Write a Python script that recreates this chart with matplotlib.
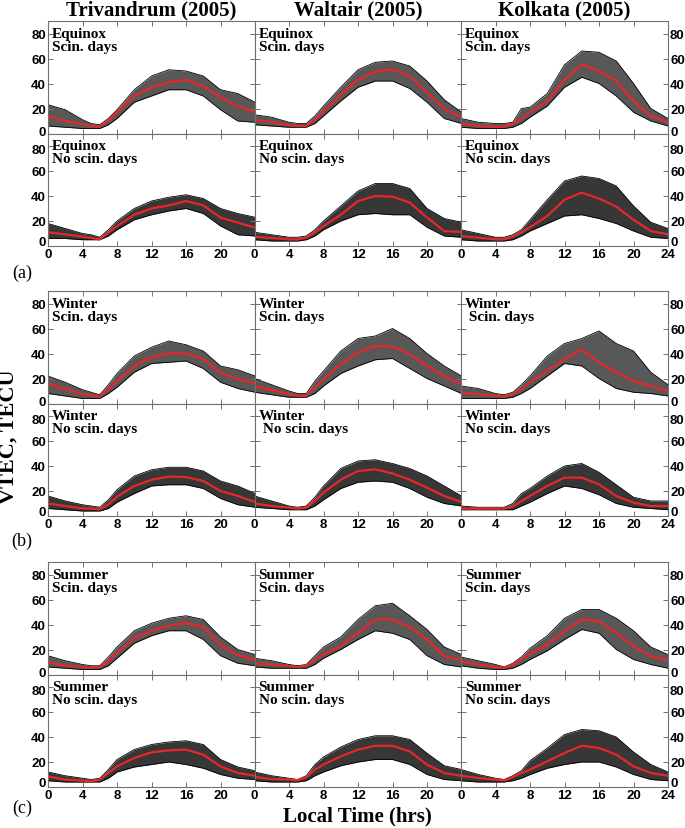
import matplotlib
matplotlib.use("Agg")
import matplotlib.pyplot as plt
import matplotlib.transforms as mtransforms
import numpy as np

# ---- data (TECU) ----
hours = [0, 2, 4, 5, 6, 7, 8, 10, 12, 14, 16, 18, 20, 22, 24]
stations = ["Trivandrum (2005)", "Waltair (2005)", "Kolkata (2005)"]
seasons = ["Equinox", "Winter", "Summer"]
group_tags = ["(a)", "(b)", "(c)"]
xtick_vals = [0, 4, 8, 12, 16, 20, 24]
ytick_vals = [0, 20, 40, 60, 80]

# mean (red), upper and lower edges of the bundle of daily curves
triv_eq_sc_mean = [14, 10, 7.5, 6, 5.5, 10, 17, 30, 37, 41, 43, 38, 29, 22, 17]
triv_eq_sc_hi   = [23, 19, 11, 8, 7, 12, 19, 35, 46, 51, 50, 46, 35, 32, 25]
triv_eq_sc_lo   = [6, 5, 4, 4, 4, 7, 12, 25, 30, 35, 35, 30, 19, 10, 9]
walt_eq_sc_mean = [11, 9, 6.7, 6, 6, 11, 18, 31, 43, 49.5, 51, 46, 33, 19.5, 13]
walt_eq_sc_hi   = [15, 13, 9, 8, 8, 14, 22, 37, 51, 57, 58, 54, 42, 27, 17]
walt_eq_sc_lo   = [7, 6, 5, 5, 5, 8, 14, 26, 37, 42, 42, 36, 25, 12, 8]
kolk_eq_sc_mean = [8, 6, 5.3, 5.3, 8, 12, 17, 26, 43, 55, 50, 42, 26, 14, 9]
kolk_eq_sc_hi   = [12, 9, 8, 8, 9, 20, 21, 32, 55, 66, 65, 58, 40, 20, 12]
kolk_eq_sc_lo   = [5, 4, 4, 4, 5, 8, 13, 22, 37, 45, 40, 30, 17, 10, 6]

triv_eq_ns_mean = [11, 9.3, 7.5, 6.4, 5.3, 10.7, 16, 25, 30, 32.5, 36, 32.5, 22.7, 18.7, 14.7]
triv_eq_ns_hi   = [18, 14, 10, 9, 7, 13, 20, 30, 36, 39, 41, 38, 30, 26, 23]
triv_eq_ns_lo   = [6, 6, 5, 5, 5, 8, 13, 21, 25, 28, 30, 26, 16, 9, 8]
walt_eq_ns_mean = [7.5, 6.4, 5.3, 5.3, 6.7, 10.7, 16, 25, 36, 40, 39.5, 34.7, 22.7, 12, 11.2]
walt_eq_ns_hi   = [11, 9, 7, 7, 8, 13, 20, 32, 44, 50, 50, 46, 30, 22, 19]
walt_eq_ns_lo   = [5, 4, 4, 4, 5, 8, 13, 20, 25, 26, 25, 25, 15, 8, 7]
kolk_eq_ns_mean = [8, 6.7, 5.3, 5.3, 7.5, 10.7, 15, 24, 37, 42.7, 38, 31.5, 21, 12, 9.3]
kolk_eq_ns_hi   = [13, 10, 7, 7, 9, 13, 21, 37, 52, 56, 54, 48, 32, 19, 14]
kolk_eq_ns_lo   = [5, 4, 4, 4, 5, 8, 12, 18, 24, 25, 22, 18, 12, 7, 6]

triv_wi_sc_mean = [16, 11.5, 7.5, 6.7, 5.3, 11.5, 18, 30, 37, 40, 40, 35.5, 24.8, 19.5, 16]
triv_wi_sc_hi   = [22, 17, 11, 9, 7, 15, 24, 38, 45, 50, 47, 42, 30, 27, 22]
triv_wi_sc_lo   = [8, 6, 4, 4, 4, 8, 13, 25, 32, 33, 34, 28, 17, 12, 9]
walt_wi_sc_mean = [14, 10.7, 7.5, 6.1, 6.1, 12.8, 19.5, 31.5, 40.8, 46, 45.6, 39.5, 30, 22, 15.5]
walt_wi_sc_hi   = [20, 15, 10, 8, 8, 18, 26, 42, 52, 54, 60, 52, 40, 30, 22]
walt_wi_sc_lo   = [9, 7, 5, 5, 5, 8, 14, 24, 30, 35, 36, 28, 20, 14, 8]
kolk_wi_sc_mean = [8.8, 7.5, 6.1, 5.6, 7.5, 11.5, 16.8, 26, 35.5, 43, 33, 25, 18, 14, 10]
kolk_wi_sc_hi   = [14, 12, 8, 7, 9, 15, 22, 38, 48, 52, 58, 48, 42, 25, 15]
kolk_wi_sc_lo   = [4, 4, 4, 4, 5, 8, 12, 22, 32, 30, 20, 12, 9, 8, 6]

triv_wi_ns_mean = [10, 8, 6.1, 5.9, 5.3, 9.3, 15.5, 24, 29, 31.5, 31.2, 28, 20, 16, 11.2]
triv_wi_ns_hi   = [16, 12, 9, 8, 7, 13, 21, 32, 37, 39, 39, 36, 28, 24, 18]
triv_wi_ns_lo   = [6, 5, 4, 4, 4, 6, 11, 18, 24, 25, 25, 22, 14, 9, 7]
walt_wi_ns_mean = [10, 8, 6.7, 5.9, 6.7, 12, 18.7, 29, 36, 37.3, 34, 29, 22.7, 16, 11.2]
walt_wi_ns_hi   = [16, 12, 8, 7, 8, 15, 24, 38, 44, 45, 42, 38, 32, 24, 16]
walt_wi_ns_lo   = [7, 6, 5, 5, 5, 8, 13, 22, 27, 28, 27, 22, 15, 10, 8]
kolk_wi_ns_mean = [5.9, 5.9, 5.9, 5.9, 7.5, 12, 16, 24, 30.7, 30.7, 25.3, 16, 10.7, 8, 8]
kolk_wi_ns_hi   = [8, 7, 7, 7, 10, 18, 22, 32, 40, 42, 35, 25, 15, 12, 12]
kolk_wi_ns_lo   = [5, 5, 5, 5, 5, 8, 11, 18, 24, 22, 17, 10, 7, 6, 5]

triv_su_sc_mean = [10, 7.2, 5.9, 5.3, 5.9, 10.7, 17.3, 29.3, 34.7, 39, 41.3, 38, 23.5, 15.5, 11.5]
triv_su_sc_hi   = [15, 11, 8, 7, 7, 14, 22, 35, 41, 45, 47, 44, 30, 20, 16]
triv_su_sc_lo   = [6, 5, 4, 4, 4, 7, 13, 25, 31, 35, 35, 28, 15, 9, 7]
walt_su_sc_mean = [9.3, 8, 6.7, 5.9, 7.2, 12, 16, 22.7, 33.3, 44, 44, 38, 28, 14.7, 11.5]
walt_su_sc_hi   = [13, 11, 8, 7, 8, 15, 22, 30, 44, 55, 57, 47, 36, 22, 16]
walt_su_sc_lo   = [6, 5, 5, 5, 5, 8, 13, 20, 28, 35, 33, 28, 15, 8, 6]
kolk_su_sc_mean = [10.7, 8, 5.9, 5.3, 8, 12, 16.5, 24, 34.7, 44, 42.7, 33.3, 22.7, 14.7, 11.5]
kolk_su_sc_hi   = [14, 11, 8, 6, 9, 14, 21, 31, 45, 52, 52, 45, 35, 22, 16]
kolk_su_sc_lo   = [7, 5, 4, 4, 5, 8, 12, 19, 28, 36, 33, 20, 12, 8, 5]

triv_su_ns_mean = [8.5, 5.9, 5.1, 4.5, 5.9, 11.2, 16.5, 23.2, 27.7, 29.3, 29.9, 25.9, 16.5, 11.2, 9]
triv_su_ns_hi   = [12, 9, 7, 6, 7, 14, 22, 30, 34, 36, 37, 34, 22, 16, 13]
triv_su_ns_lo   = [5, 4, 4, 4, 4, 7, 12, 16, 18, 20, 18, 15, 10, 7, 6]
walt_su_ns_mean = [8, 6.4, 5.9, 5.3, 8, 13.9, 17.9, 24.5, 29.9, 33, 33, 28.5, 17.9, 11.2, 9]
walt_su_ns_hi   = [12, 9, 7, 6, 9, 18, 24, 32, 38, 41, 41, 38, 27, 17, 14]
walt_su_ns_lo   = [5, 4, 4, 4, 5, 9, 12, 17, 20, 22, 22, 18, 10, 6, 5]
kolk_su_ns_mean = [9, 7.2, 5.9, 5.3, 8, 11.2, 13.9, 20.5, 27.2, 33, 31.2, 25.9, 16.5, 11.2, 9]
kolk_su_ns_hi   = [14, 10, 7, 6, 9, 13, 21, 31, 42, 46, 45, 40, 28, 18, 12]
kolk_su_ns_lo   = [5, 4, 4, 4, 5, 7, 10, 15, 18, 20, 20, 16, 10, 6, 5]

# rows of panels: (season, day type, [(mean, hi, lo) per station])
panel_rows = [
    ("Equinox", "Scin. days", [(triv_eq_sc_mean, triv_eq_sc_hi, triv_eq_sc_lo),
                               (walt_eq_sc_mean, walt_eq_sc_hi, walt_eq_sc_lo),
                               (kolk_eq_sc_mean, kolk_eq_sc_hi, kolk_eq_sc_lo)]),
    ("Equinox", "No scin. days", [(triv_eq_ns_mean, triv_eq_ns_hi, triv_eq_ns_lo),
                                  (walt_eq_ns_mean, walt_eq_ns_hi, walt_eq_ns_lo),
                                  (kolk_eq_ns_mean, kolk_eq_ns_hi, kolk_eq_ns_lo)]),
    ("Winter", "Scin. days", [(triv_wi_sc_mean, triv_wi_sc_hi, triv_wi_sc_lo),
                              (walt_wi_sc_mean, walt_wi_sc_hi, walt_wi_sc_lo),
                              (kolk_wi_sc_mean, kolk_wi_sc_hi, kolk_wi_sc_lo)]),
    ("Winter", "No scin. days", [(triv_wi_ns_mean, triv_wi_ns_hi, triv_wi_ns_lo),
                                 (walt_wi_ns_mean, walt_wi_ns_hi, walt_wi_ns_lo),
                                 (kolk_wi_ns_mean, kolk_wi_ns_hi, kolk_wi_ns_lo)]),
    ("Summer", "Scin. days", [(triv_su_sc_mean, triv_su_sc_hi, triv_su_sc_lo),
                              (walt_su_sc_mean, walt_su_sc_hi, walt_su_sc_lo),
                              (kolk_su_sc_mean, kolk_su_sc_hi, kolk_su_sc_lo)]),
    ("Summer", "No scin. days", [(triv_su_ns_mean, triv_su_ns_hi, triv_su_ns_lo),
                                 (walt_su_ns_mean, walt_su_ns_hi, walt_su_ns_lo),
                                 (kolk_su_ns_mean, kolk_su_ns_hi, kolk_su_ns_lo)]),
]

# ---- layout (pixel positions of the reference, 685 x 829) ----
W, H = 685, 829
col_left = [48, 254.5, 461]
col_w = 207
row_top = [22, 134.5, 292, 404.5, 563, 675.5]
row_h = 112.5

SERIF = "Liberation Serif"
SANS = "Liberation Sans"
SPINE = "#707070"

fig = plt.figure(figsize=(W / 100, H / 100), dpi=100)


def shift(dy_px):
    return mtransforms.ScaledTranslation(0, dy_px / 100, fig.dpi_scale_trans)


for r, (season, daytype, curves) in enumerate(panel_rows):
    for c, (mean, hi, lo) in enumerate(curves):
        ax = fig.add_axes([col_left[c] / W, 1 - (row_top[r] + row_h) / H,
                           col_w / W, row_h / H])
        dense = daytype.startswith("No")
        ax.fill_between(hours, lo, hi, color="#262626" if dense else "#4a4a4a",
                        lw=0, alpha=0.92)
        ax.plot(hours, hi, color="black", lw=0.6)
        ax.plot(hours, lo, color="black", lw=0.6)
        ax.plot(hours, mean, color="#e8262a", lw=1.6)

        ax.set_xlim(0, 24)
        ax.set_ylim(0, 90)
        ax.set_xticks(xtick_vals)
        ax.set_yticks(ytick_vals)
        ax.tick_params(direction="in", length=3.5, width=0.7, color=SPINE,
                       top=True, right=True, labelsize=9.5, pad=1.5)
        for s in ax.spines.values():
            s.set_color(SPINE)
            s.set_linewidth(0.8)

        bottom_row = (r % 2 == 1)
        ax.tick_params(labelbottom=bottom_row)
        if bottom_row:
            labs = [str(v) for v in xtick_vals]
            if c < 2:
                labs[-1] = ""
            ax.set_xticklabels(labs, fontfamily=SANS, fontweight="bold")
        ax.tick_params(labelleft=(c == 0), labelright=(c == 2))
        ax.set_yticklabels([str(v) for v in ytick_vals], fontfamily=SANS,
                           fontweight="bold")
        # keep the "0" / "80" of stacked panels and the corner x labels apart
        for t in ax.yaxis.get_major_ticks():
            dy = 0
            if t.get_loc() == 0:
                dy = 5 if bottom_row else 3
            elif t.get_loc() == 80 and bottom_row:
                dy = -2.5
            if dy:
                for lab in (t.label1, t.label2):
                    lab.set_transform(lab.get_transform() + shift(dy))

        line2 = daytype
        if (season == "Winter" and c == 1 and dense) or \
           (season == "Winter" and c == 2 and not dense):
            line2 = " " + daytype
        ax.text(0.02, 0.95, season + "\n" + line2, transform=ax.transAxes,
                ha="left", va="top", fontfamily=SERIF, fontweight="bold",
                fontsize=11, linespacing=1.0)

# column titles
for c, name in enumerate(stations):
    fig.text((col_left[c] + col_w / 2) / W, 1 - 10 / H, name, ha="center",
             va="center", fontfamily=SERIF, fontweight="bold", fontsize=15)

# group tags
for tag, ty in zip(group_tags, [273, 541, 808]):
    fig.text(22 / W, 1 - ty / H, tag, ha="center", va="center",
             fontfamily=SERIF, fontsize=13)

fig.text(9 / W, 1 - 437 / H, "VTEC, TECU", rotation=90, ha="center",
         va="center", fontfamily=SERIF, fontweight="bold", fontsize=16)
fig.text(357 / W, 1 - 816 / H, "Local Time (hrs)", ha="center", va="center",
         fontfamily=SERIF, fontweight="bold", fontsize=15)

fig.savefig("out.png", dpi=100)
